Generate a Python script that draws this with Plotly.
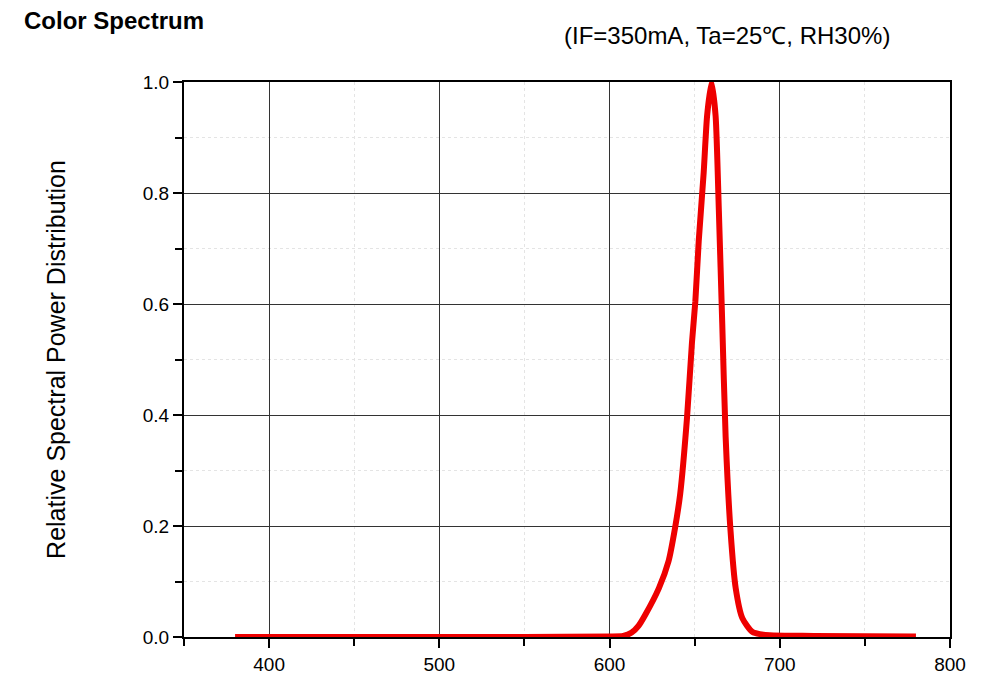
import plotly.graph_objects as go

wavelength = [380, 450, 550, 600, 608, 613, 617, 621, 629, 634.6, 638.5, 641.5, 645.5, 648.4, 650.4,
              652.4, 655.3, 657.3, 659.9, 662.3, 664.2, 666.2, 668.2, 671.1, 674.1, 678, 684,
              694, 720, 780]
power = [0.0, 0.0, 0.0, 0.001, 0.002, 0.008, 0.02, 0.04, 0.088, 0.136, 0.197, 0.258, 0.395, 0.53, 0.605,
         0.714, 0.837, 0.939, 1.0, 0.939, 0.769, 0.565, 0.36, 0.19, 0.088, 0.034, 0.009,
         0.003, 0.002, 0.001]

font = "Liberation Sans, Arial"

fig = go.Figure()
fig.add_trace(go.Scatter(x=wavelength, y=power, mode="lines",
                         line=dict(color="#ee0000", width=6, shape="spline", smoothing=0.6),
                         showlegend=False))

axis_common = dict(
    showline=True, linecolor="black", linewidth=2, mirror=True,
    showgrid=True, gridcolor="#333333", gridwidth=1,
    ticks="outside", ticklen=9, tickwidth=2, tickcolor="black",
    tickfont=dict(family=font, size=19, color="black"),
    zeroline=False,
)
fig.update_xaxes(range=[350, 800], dtick=100, tick0=400,
                 minor=dict(dtick=50, ticks="outside", ticklen=7, showgrid=True,
                            gridcolor="#e4e4e4", griddash="dot"),
                 **axis_common)
fig.update_yaxes(range=[0, 1.0], dtick=0.2, tickformat=".1f",
                 minor=dict(dtick=0.1, ticks="outside", ticklen=7, showgrid=True,
                            gridcolor="#e4e4e4", griddash="dot"),
                 title=dict(text="Relative Spectral Power Distribution",
                            font=dict(family=font, size=25, color="black"),
                            standoff=70),
                 **axis_common)

fig.add_annotation(text="<b>Color Spectrum</b>", xref="paper", yref="paper", x=-0.212, y=1.11,
                   xanchor="left", yanchor="middle", showarrow=False,
                   font=dict(family=font, size=24, color="black"))
fig.add_annotation(text="(IF=350mA, Ta=25℃, RH30%)", xref="paper", yref="paper", x=0.924, y=1.083,
                   xanchor="right", yanchor="middle", showarrow=False,
                   font=dict(family=font, size=24, color="black"))

fig.update_layout(width=997, height=700, plot_bgcolor="white", paper_bgcolor="white",
                  margin=dict(l=176, r=55, t=74, b=71))
fig.write_html("out.html")
